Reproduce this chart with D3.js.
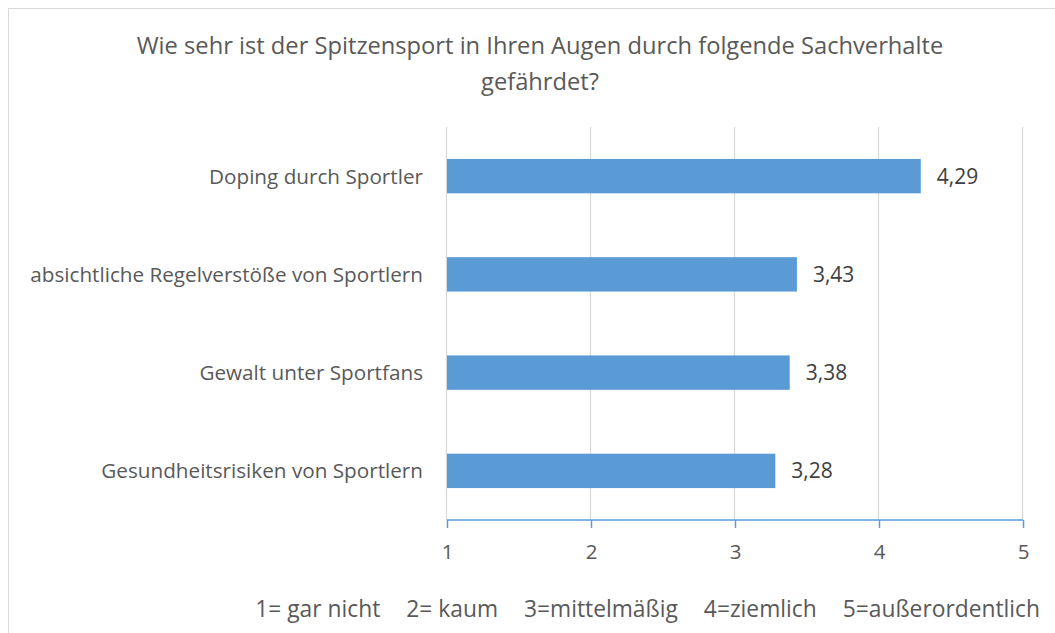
<!DOCTYPE html>
<html>
<head>
<meta charset="utf-8">
<script src="https://cdn.jsdelivr.net/npm/d3@7"></script>
<style>
  body { margin: 0; background: #fff; }
  text { font-family: "Open Sans", sans-serif; fill: #595959; }
</style>
</head>
<body>
<div id="chart"></div>
<script>
(function () {
    const W = 1055, H = 633;
    const margin = { top: 127, right: 32, bottom: 113, left: 447 };
    const width = W - margin.left - margin.right;
    const height = H - margin.top - margin.bottom;

    // data
    const categories = [
        "Doping durch Sportler",
        "absichtliche Regelverstöße von Sportlern",
        "Gewalt unter Sportfans",
        "Gesundheitsrisiken von Sportlern"
    ];
    const values = [4.29, 3.43, 3.38, 3.28];
    const tickValues = [1, 2, 3, 4, 5];
    const titleLines = [
        "Wie sehr ist der Spitzensport in Ihren Augen durch folgende Sachverhalte",
        "gefährdet?"
    ];
    const scaleLabels = ["1= gar nicht", "2= kaum", "3=mittelmäßig", "4=ziemlich", "5=außerordentlich"];

    const data = categories.map((c, i) => ({ cat: c, val: values[i] }));
    const fmt = v => v.toFixed(2).replace(".", ",");

    const svg = d3.select("#chart").append("svg")
        .attr("width", W)
        .attr("height", H);

    // outer chart border
    svg.append("rect")
        .attr("x", 8.5).attr("y", 8.5)
        .attr("width", W + 20).attr("height", H + 20)
        .attr("fill", "none")
        .attr("stroke", "#d9d9d9");

    const g = svg.append("g")
        .attr("transform", `translate(${margin.left},${margin.top})`);

    const x = d3.scaleLinear().domain([1, 5]).range([0, width]);
    const y = d3.scaleBand().domain(categories).range([0, height]).paddingInner(0.65).paddingOuter(0.325);

    // gridlines
    g.selectAll("line.grid")
        .data(tickValues)
        .enter().append("line")
        .attr("class", "grid")
        .attr("x1", d => Math.round(x(d)) - 0.5)
        .attr("x2", d => Math.round(x(d)) - 0.5)
        .attr("y1", 0)
        .attr("y2", height)
        .attr("stroke", "#d9d9d9")
        .attr("stroke-width", 1.3);

    // bars
    g.selectAll("rect.bar")
        .data(data)
        .enter().append("rect")
        .attr("class", "bar")
        .attr("x", x(1))
        .attr("y", d => y(d.cat))
        .attr("width", d => x(d.val) - x(1))
        .attr("height", y.bandwidth())
        .attr("fill", "#5b9bd5");

    // value labels
    g.selectAll("text.val")
        .data(data)
        .enter().append("text")
        .attr("class", "val")
        .attr("x", d => x(d.val) + 16)
        .attr("y", d => y(d.cat) + y.bandwidth() / 2)
        .attr("dy", "0.36em")
        .style("font-size", "21px")
        .style("fill", "#404040")
        .text(d => fmt(d.val));

    // category labels
    g.selectAll("text.cat")
        .data(data)
        .enter().append("text")
        .attr("class", "cat")
        .attr("x", -24)
        .attr("y", d => y(d.cat) + y.bandwidth() / 2)
        .attr("dy", "0.36em")
        .attr("text-anchor", "end")
        .style("font-size", "20.7px")
        .text(d => d.cat);

    // x axis
    const xAxis = g.append("g")
        .attr("transform", `translate(0,${height})`)
        .call(d3.axisBottom(x).tickValues(tickValues).tickSize(8).tickPadding(16).tickFormat(d3.format("d")));
    xAxis.select(".domain").attr("stroke", "#5b9bd5").attr("stroke-width", 1.5).attr("d", `M0,0H${width}`);
    xAxis.selectAll(".tick line").attr("stroke", "#5b9bd5").attr("stroke-width", 1.5);
    xAxis.selectAll(".tick text")
        .style("font-family", "Open Sans, sans-serif")
        .style("font-size", "20.5px")
        .style("fill", "#595959");

    // title
    svg.selectAll("text.title")
        .data(titleLines)
        .enter().append("text")
        .attr("class", "title")
        .attr("x", 540)
        .attr("y", (d, i) => 54 + i * 36)
        .attr("text-anchor", "middle")
        .style("font-size", "23.7px")
        .text(d => d);

    // scale explanation under the axis
    const scaleText = svg.append("text")
        .attr("x", 1040)
        .attr("y", 617)
        .attr("text-anchor", "end")
        .style("font-size", "22.8px");
    scaleLabels.forEach((s, i) => {
        scaleText.append("tspan")
            .attr("dx", i === 0 ? 0 : 26)
            .text(s);
    });
})();
</script>
</body>
</html>
